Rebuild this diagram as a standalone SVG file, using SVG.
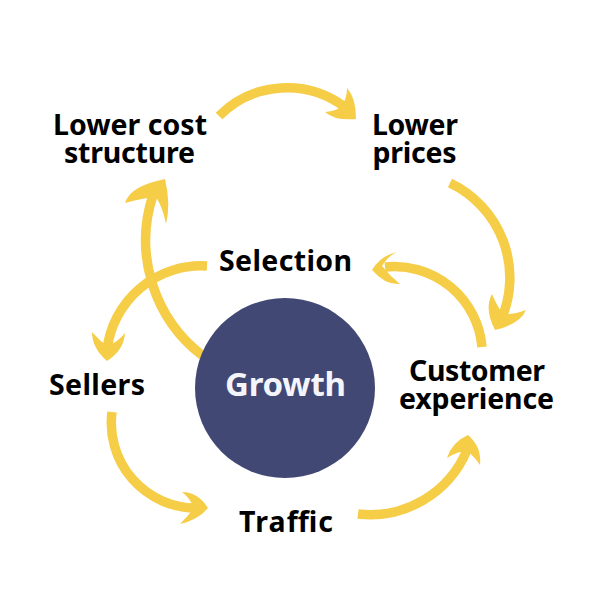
<svg xmlns="http://www.w3.org/2000/svg" width="600" height="600" viewBox="0 0 600 600">
<style>
.s{fill:none;stroke:#f5cd47;stroke-width:9.500}
.h{fill:#f5cd47}
text{font-family:"Noto Sans","Open Sans",sans-serif;font-weight:700;font-size:28.500px;fill:#000;text-anchor:middle}
</style>
<rect width="600" height="600" fill="#fff"/>
<g id="connectors">
<path class="s" d="M219 116A96 96 0 0 1 346 108"/>
<path class="h" d="M347 88Q356 98 356 119Q335 121 325 112Q337 111 342 106Q347 98 347 88Z"/>
<path class="s" d="M450 183A105 105 0 0 1 501 320"/>
<path class="h" d="M492 294Q497 306 503 314Q512 315 526 310Q520 324 495 330Q484 309 492 294Z"/>
<path class="s" d="M482 347A88 88 0 0 0 385 267"/>
<path class="h" d="M397 252Q388 256 382 266Q390 276 400 284Q385 285 372 270Q380 256 397 252Z"/>
<path class="s" d="M358 514A105 105 0 0 0 467 450"/>
<path class="h" d="M468 435Q482 447 480 465Q474 456 467 451Q458 451 447 458Q452 442 468 435Z"/>
<path class="s" d="M112 412A85 85 0 0 0 196 508"/>
<path class="h" d="M182 492Q198 492 208 508Q198 520 180 524Q188 516 194 508Q190 498 182 492Z"/>
<path class="s" d="M207 266A95 95 0 0 0 107 350"/>
<path class="h" d="M92 332Q99 340 107 346Q118 342 125 333Q124 350 107 361Q92 348 92 332Z"/>
<path class="s" d="M203 356A145 145 0 0 1 153 195"/>
<path class="h" d="M125 203Q130 186 165 179Q171 204 166 224Q163 208 156 197Q143 198 125 203Z"/>
</g>
<g id="growth"><circle cx="285" cy="388" r="90" fill="#424874"/><text x="285.500" y="396" style="font-size:33px;fill:#f4f5fa" textLength="121">Growth</text></g>
<g id="lower-cost-structure"><text><tspan x="130" y="135" textLength="154">Lower cost</tspan><tspan x="129.500" y="163" textLength="131">structure</tspan></text></g>
<g id="lower-prices"><text><tspan x="415" y="135" textLength="86">Lower</tspan><tspan x="414.500" y="163" textLength="84">prices</tspan></text></g>
<g id="selection"><text x="285.500" y="271" textLength="133">Selection</text></g>
<g id="customer-experience"><text><tspan x="477" y="381" textLength="136">Customer</tspan><tspan x="476.500" y="409" textLength="155">experience</tspan></text></g>
<g id="sellers"><text x="97" y="395" textLength="96">Sellers</text></g>
<g id="traffic"><text x="286" y="532" textLength="94">Traffic</text></g>
</svg>
